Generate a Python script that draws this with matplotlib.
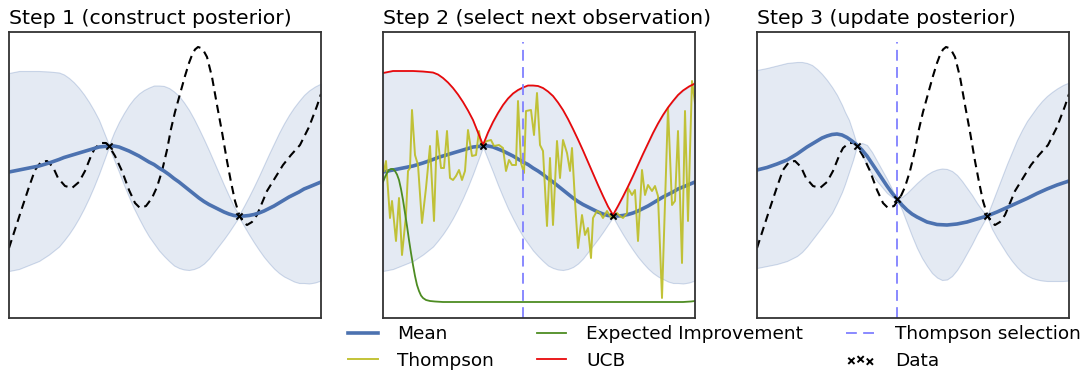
import numpy as np
import matplotlib.pyplot as plt

# ---------------- data ----------------
# GP posterior before the new observation (panels 1 and 2)
x_post = [0.00, 0.10, 0.20, 0.30, 0.40, 0.50, 0.55, 0.60, 0.65, 0.70, 0.75, 0.80, 0.85, 0.90,
          0.95, 1.00, 1.05, 1.10, 1.15, 1.20, 1.25, 1.30, 1.35, 1.40, 1.45, 1.50, 1.55, 1.60,
          1.65, 1.70, 1.75, 1.80, 1.85, 1.90, 1.95, 2.00, 2.05, 2.10, 2.15, 2.20, 2.25, 2.30,
          2.35, 2.40, 2.45, 2.50, 2.55, 2.60, 2.65, 2.70, 2.75, 2.80, 2.85, 2.90, 2.95, 3.00,
          3.06, 3.12]
mean_post = [0.06, 0.10, 0.14, 0.18, 0.24, 0.31, 0.35, 0.38, 0.41, 0.44, 0.47, 0.50, 0.53, 0.56,
             0.57, 0.58, 0.58, 0.56, 0.52, 0.48, 0.43, 0.38, 0.32, 0.26, 0.21, 0.14, 0.08, 0.01,
             -0.07, -0.14, -0.22, -0.30, -0.38, -0.46, -0.53, -0.59, -0.64, -0.69, -0.74, -0.78, -0.81, -0.82,
             -0.82, -0.81, -0.79, -0.76, -0.72, -0.67, -0.62, -0.56, -0.50, -0.44, -0.39, -0.34, -0.28, -0.24,
             -0.19, -0.14]
sd_post = [1.98, 1.98, 1.94, 1.90, 1.83, 1.74, 1.66, 1.56, 1.44, 1.30, 1.14, 0.96, 0.76, 0.54,
           0.28, 0.02, 0.27, 0.50, 0.72, 0.92, 1.10, 1.25, 1.38, 1.49, 1.58, 1.65, 1.70, 1.73,
           1.74, 1.72, 1.67, 1.60, 1.50, 1.38, 1.24, 1.08, 0.90, 0.72, 0.54, 0.36, 0.18, 0.02,
           0.20, 0.38, 0.56, 0.74, 0.92, 1.09, 1.25, 1.40, 1.53, 1.64, 1.74, 1.82, 1.88, 1.93,
           1.96, 1.97]
ucb = [2.04, 2.08, 2.08, 2.08, 2.07, 2.05, 2.01, 1.94, 1.85, 1.74, 1.61, 1.46, 1.29, 1.10,
       0.85, 0.60, 0.85, 1.06, 1.24, 1.40, 1.53, 1.63, 1.70, 1.75, 1.79, 1.79, 1.78, 1.74,
       1.67, 1.58, 1.45, 1.30, 1.12, 0.92, 0.71, 0.49, 0.26, 0.03, -0.20, -0.42, -0.63, -0.80,
       -0.62, -0.43, -0.23, -0.02, 0.20, 0.42, 0.63, 0.84, 1.03, 1.20, 1.35, 1.48, 1.60, 1.69,
       1.77, 1.83]

# true objective (dashed)
x_true = [0.00, 0.13, 0.20, 0.26, 0.32, 0.38, 0.44, 0.49, 0.56, 0.63, 0.70, 0.76, 0.82, 0.86,
          0.92, 0.97, 1.00, 1.06, 1.13, 1.20, 1.26, 1.31, 1.37, 1.43, 1.48, 1.53, 1.58, 1.62,
          1.66, 1.71, 1.76, 1.80, 1.83, 1.86, 1.89, 1.92, 1.95, 1.98, 2.03, 2.08, 2.13, 2.18,
          2.22, 2.26, 2.30, 2.34, 2.38, 2.43, 2.48, 2.53, 2.58, 2.66, 2.74, 2.82, 2.91, 3.00,
          3.08, 3.12]
y_true = [-1.46, -0.66, -0.24, 0.10, 0.26, 0.28, 0.16, -0.06, -0.22, -0.26, -0.14, 0.08, 0.38, 0.54,
          0.64, 0.64, 0.58, 0.38, 0.08, -0.30, -0.56, -0.66, -0.62, -0.46, -0.24, 0.08, 0.50, 0.92,
          1.26, 1.62, 1.98, 2.24, 2.40, 2.51, 2.56, 2.54, 2.47, 2.36, 1.96, 1.40, 0.86, 0.28,
          -0.14, -0.52, -0.78, -0.94, -1.00, -0.94, -0.80, -0.56, -0.32, -0.06, 0.20, 0.40, 0.60, 0.96,
          1.38, 1.62]

# expected improvement
x_ei = [0.00, 0.02, 0.04, 0.06, 0.08, 0.10, 0.12, 0.14, 0.16, 0.18, 0.20, 0.22, 0.24, 0.26,
        0.28, 0.30, 0.32, 0.34, 0.36, 0.38, 0.40, 0.43, 0.47, 0.52, 0.60, 1.00, 2.00, 3.00,
        3.08, 3.12]
y_ei = [-0.14, -0.04, 0.04, 0.10, 0.12, 0.12, 0.08, 0.01, -0.10, -0.28, -0.50, -0.76, -1.02, -1.30,
        -1.56, -1.80, -2.02, -2.20, -2.32, -2.41, -2.46, -2.50, -2.52, -2.53, -2.54, -2.54, -2.54, -2.54,
        -2.53, -2.52]

# Thompson sample
x_ts = [0.01, 0.03, 0.07, 0.09, 0.13, 0.16, 0.19, 0.23, 0.25, 0.27, 0.29, 0.32, 0.35, 0.39,
        0.43, 0.47, 0.51, 0.54, 0.58, 0.61, 0.64, 0.67, 0.70, 0.73, 0.76, 0.79, 0.82, 0.85,
        0.89, 0.93, 0.96, 0.98, 1.01, 1.04, 1.08, 1.11, 1.16, 1.20, 1.23, 1.26, 1.29, 1.33,
        1.35, 1.38, 1.41, 1.43, 1.48, 1.51, 1.54, 1.57, 1.60, 1.64, 1.67, 1.70, 1.74, 1.77,
        1.80, 1.84, 1.87, 1.89, 1.92, 1.95, 1.99, 2.02, 2.05, 2.08, 2.10, 2.14, 2.17, 2.20,
        2.24, 2.27, 2.30, 2.34, 2.37, 2.40, 2.44, 2.45, 2.49, 2.52, 2.55, 2.59, 2.62, 2.65,
        2.69, 2.72, 2.75, 2.79, 2.85, 2.89, 2.92, 2.95, 2.99, 3.02, 3.05, 3.09, 3.12]
y_ts = [0.08, 0.28, -0.86, -0.52, -1.32, -0.46, -1.60, -0.80, 0.08, 0.14, 1.30, 0.40, 0.20, -0.96,
        -0.26, 0.58, -0.92, 0.88, 0.14, 0.14, 0.88, -0.06, -0.10, -0.02, 0.10, -0.10, 0.08, 0.90,
        0.38, 0.40, 0.88, 0.60, 0.64, 0.68, 0.70, 0.58, 0.60, 0.54, 0.08, 0.30, 0.20, 0.20,
        1.48, 0.24, 0.04, 1.28, 1.30, 0.80, 1.64, 0.60, 0.48, -1.02, 0.34, -1.00, 0.68, -0.06,
        0.70, 0.44, 0.08, 0.54, -0.52, -1.46, -0.80, -1.20, -1.06, -1.66, -0.86, -0.72, -0.76, -0.86,
        -0.72, -0.82, -0.86, -0.76, -0.82, -0.86, -0.76, -0.26, -0.40, -0.30, -1.32, 0.10, -0.40, -0.20,
        -0.32, -0.22, -0.42, -2.46, 1.34, -0.60, -0.52, 0.88, -1.76, 1.28, -0.92, 1.88, 1.44]

# posterior after adding the selected point (panel 3)
x_new = [0.00, 0.10, 0.20, 0.30, 0.40, 0.45, 0.50, 0.55, 0.60, 0.65, 0.70, 0.75, 0.80, 0.85,
         0.88, 0.92, 0.96, 1.00, 1.05, 1.10, 1.15, 1.20, 1.25, 1.30, 1.35, 1.40, 1.45, 1.50,
         1.55, 1.60, 1.65, 1.70, 1.75, 1.80, 1.85, 1.90, 1.95, 2.00, 2.05, 2.10, 2.15, 2.20,
         2.25, 2.30, 2.35, 2.40, 2.45, 2.50, 2.55, 2.60, 2.65, 2.70, 2.75, 2.80, 2.85, 2.90,
         2.95, 3.00, 3.06, 3.12]
upper_new = [2.10, 2.14, 2.19, 2.24, 2.26, 2.26, 2.24, 2.20, 2.12, 2.02, 1.90, 1.76, 1.60, 1.40,
             1.26, 1.10, 0.86, 0.60, 0.64, 0.60, 0.46, 0.28, 0.10, -0.08, -0.28, -0.48, -0.44, -0.36,
             -0.26, -0.16, -0.07, 0.01, 0.07, 0.11, 0.13, 0.12, 0.08, 0.00, -0.12, -0.26, -0.40, -0.56,
             -0.70, -0.82, -0.56, -0.30, -0.04, 0.22, 0.46, 0.70, 0.90, 1.08, 1.22, 1.36, 1.48, 1.58,
             1.66, 1.73, 1.80, 1.85]
lower_new = [-1.86, -1.82, -1.78, -1.72, -1.62, -1.54, -1.43, -1.30, -1.17, -1.04, -0.90, -0.76, -0.56, -0.34,
             -0.18, 0.06, 0.30, 0.58, 0.42, 0.18, 0.02, -0.12, -0.24, -0.36, -0.44, -0.48, -0.70, -0.96,
             -1.22, -1.46, -1.66, -1.82, -1.96, -2.05, -2.10, -2.09, -2.02, -1.90, -1.74, -1.56, -1.38, -1.18,
             -1.00, -0.82, -1.08, -1.26, -1.42, -1.58, -1.72, -1.84, -1.94, -2.01, -2.06, -2.09, -2.11, -2.12,
             -2.12, -2.12, -2.12, -2.11]
x_mean_new = [0.00, 0.10, 0.20, 0.30, 0.40, 0.50, 0.60, 0.65, 0.70, 0.75, 0.80, 0.85, 0.90, 0.95,
              1.00, 1.05, 1.10, 1.15, 1.20, 1.25, 1.30, 1.35, 1.40, 1.45, 1.50, 1.55, 1.60, 1.65,
              1.70, 1.80, 1.90, 2.00, 2.10, 2.20, 2.30, 2.40, 2.50, 2.60, 2.70, 2.80, 2.90, 3.00,
              3.12]
mean_new = [0.10, 0.15, 0.22, 0.30, 0.42, 0.56, 0.68, 0.74, 0.78, 0.81, 0.82, 0.80, 0.75, 0.68,
            0.60, 0.50, 0.38, 0.23, 0.08, -0.07, -0.22, -0.36, -0.48, -0.60, -0.70, -0.78, -0.84, -0.89,
            -0.94, -0.99, -1.00, -0.98, -0.94, -0.88, -0.82, -0.74, -0.65, -0.56, -0.47, -0.37, -0.28, -0.20,
            -0.12]

x_obs = [1.00, 2.30]
y_obs = [0.58, -0.82]
x_sel = 1.40
y_sel = -0.48

titles = ['Step 1 (construct posterior)', 'Step 2 (select next observation)', 'Step 3 (update posterior)']

# ---------------- styling ----------------
c_mean = '#4c72b0'
c_band = (0.298, 0.447, 0.690, 0.15)
c_band_edge = (0.298, 0.447, 0.690, 0.25)
c_ts = '#bcbd22'
c_ei = '#4d8c22'
c_ucb = '#e8090b'
c_sel = '#8080ff'

fig = plt.figure(figsize=(10.91, 3.71), dpi=100)
W, H = 1091.0, 371.0
lefts = [9, 383, 757]
axes = [fig.add_axes([l / W, 1 - 318 / H, 312 / W, 286 / H]) for l in lefts]

mp = np.array(mean_post)
sp = np.array(sd_post)

for ax, t in zip(axes, titles):
    ax.set_xlim(0, 3.12)
    ax.set_ylim(-2.86, 2.86)
    ax.set_xticks([])
    ax.set_yticks([])
    for s in ax.spines.values():
        s.set_color('#333333')
        s.set_linewidth(1.3)
    ax.set_title(t, loc='left', fontsize=14.7, pad=6)

dash_true = (0, (4, 2.6))
dash_sel = (0, (6, 3.5))

# panel 1
ax = axes[0]
ax.fill_between(x_post, mp - sp, mp + sp, facecolor=c_band, edgecolor=c_band_edge, lw=0.8)
ax.plot(x_true, y_true, color='k', lw=1.5, ls=dash_true)
ax.plot(x_post, mean_post, color=c_mean, lw=2.6)
ax.scatter(x_obs, y_obs, marker='x', s=20, color='k', lw=1.4, zorder=5)

# panel 2
ax = axes[1]
ax.fill_between(x_post, mp - sp, mp + sp, facecolor=c_band, edgecolor=c_band_edge, lw=0.8)
h_mean, = ax.plot(x_post, mean_post, color=c_mean, lw=2.6, label='Mean')
h_ts, = ax.plot(x_ts, y_ts, color=c_ts, lw=1.4, alpha=0.9, label='Thompson')
h_ei, = ax.plot(x_ei, y_ei, color=c_ei, lw=1.3, label='Expected Improvement')
h_ucb, = ax.plot(x_post, ucb, color=c_ucb, lw=1.3, label='UCB')
h_sel = ax.axvline(x_sel, ymax=0.965, color=c_sel, lw=1.3, ls=dash_sel, label='Thompson selection')
h_obs = ax.scatter(x_obs, y_obs, marker='x', s=20, color='k', lw=1.4, zorder=5, label='Data')

# panel 3
ax = axes[2]
ax.fill_between(x_new, lower_new, upper_new, facecolor=c_band, edgecolor=c_band_edge, lw=0.8)
ax.plot(x_true, y_true, color='k', lw=1.5, ls=dash_true)
ax.axvline(x_sel, ymax=0.965, color=c_sel, lw=1.3, ls=dash_sel)
ax.plot(x_mean_new, mean_new, color=c_mean, lw=2.6)
ax.scatter(x_obs + [x_sel], y_obs + [y_sel], marker='x', s=20, color='k', lw=1.4, zorder=5)

handles = [h_mean, h_ts, h_ei, h_ucb, h_sel, h_obs]
fig.legend(handles, [h.get_label() for h in handles], loc='upper left',
           bbox_to_anchor=(340.6 / W, 1 - 318 / H), borderaxespad=0, ncol=3,
           frameon=False, fontsize=13.3, handlelength=1.6, handletextpad=1.08,
           columnspacing=2.3, labelspacing=0.45, scatterpoints=3)

fig.savefig('out.png', dpi=100)
